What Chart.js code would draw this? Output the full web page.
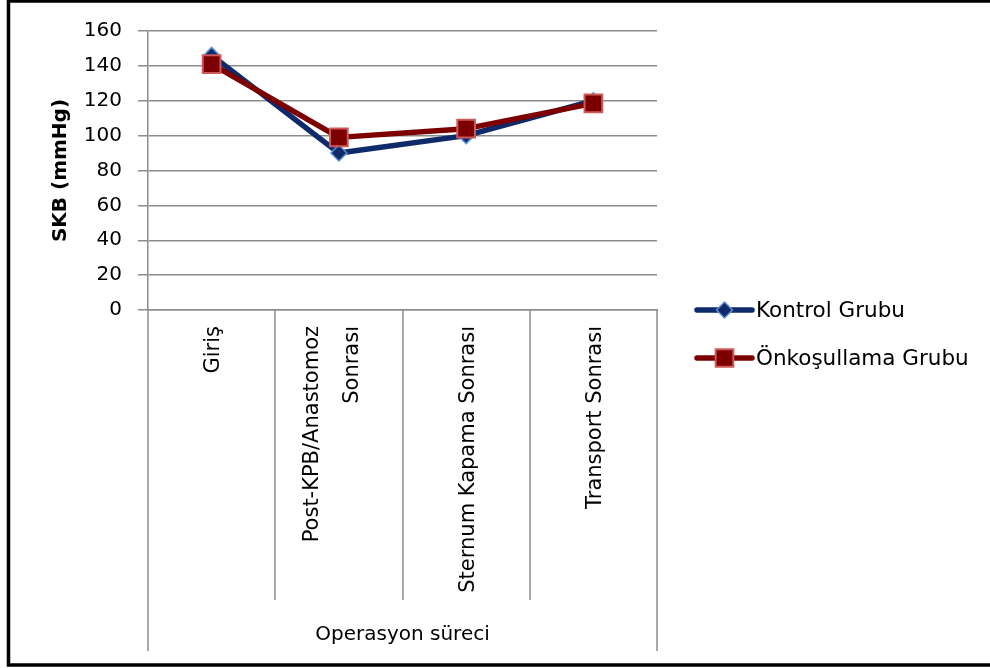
<!DOCTYPE html>
<html>
<head>
<meta charset="utf-8">
<script src="https://cdn.jsdelivr.net/npm/chart.js@4/dist/chart.umd.min.js"></script>
<style>
  html, body { margin: 0; padding: 0; background: #fff; }
  #wrap { position: relative; width: 990px; height: 668px; }
</style>
</head>
<body>
<div id="wrap"><canvas id="chart" width="990" height="668"></canvas></div>
<script>
// Systolic blood pressure (SKB) per surgical phase, two patient groups
const categories = ['Giriş', ['Post-KPB/Anastomoz', 'Sonrası'], 'Sternum Kapama Sonrası', 'Transport Sonrası'];
const kontrolGrubu = [146, 90, 100, 120];
const onkosullamaGrubu = [141, 99, 104, 118.5];
const yTickValues = [0, 20, 40, 60, 80, 100, 120, 140, 160];
const seriesNames = ['Kontrol Grubu', 'Önkoşullama Grubu'];
const yTitle = 'SKB (mmHg)';
const xTitle = 'Operasyon süreci';

const FONT = '"DejaVu Sans"';
const GRID = '#8c8c8c';

// white page + heavy black frame
const framePlugin = {
  id: 'frame',
  beforeDraw(chart) {
    const ctx = chart.ctx;
    ctx.save();
    ctx.fillStyle = '#fff';
    ctx.fillRect(0, 0, chart.width, chart.height);
    ctx.restore();
  },
  afterDraw(chart) {
    const ctx = chart.ctx;
    ctx.save();
    ctx.strokeStyle = '#000';
    ctx.lineWidth = 3.5;
    ctx.strokeRect(8.5, 1, chart.width + 20, chart.height - 4);
    ctx.restore();
  }
};

// category band under the plot: separators plus vertical category names
const categoryBandPlugin = {
  id: 'categoryBand',
  afterDraw(chart) {
    const xs = chart.scales.x;
    const n = xs.ticks.length;
    const ctx = chart.ctx;
    ctx.save();
    ctx.strokeStyle = GRID;
    ctx.lineWidth = 1.5;
    for (let i = 0; i <= n; i++) {
      const px = Math.round(xs.getPixelForValue(i - 0.5));
      const outer = (i === 0 || i === n);
      const yEnd = outer ? xs.bottom - 17 : xs.bottom - 68;
      ctx.beginPath();
      ctx.moveTo(px, xs.top);
      ctx.lineTo(px, yEnd);
      ctx.stroke();
    }
    ctx.restore();

    const spacing = 40;
    ctx.save();
    ctx.fillStyle = '#000';
    ctx.font = '21px ' + FONT;
    ctx.textAlign = 'right';
    ctx.textBaseline = 'middle';
    categories.forEach((label, i) => {
      const lines = Array.isArray(label) ? label : [label];
      const px = xs.getPixelForValue(i);
      lines.forEach((line, j) => {
        const x = px + 2 - (lines.length - 1) * 28 + j * spacing;
        ctx.save();
        ctx.translate(x, xs.top + 16);
        ctx.rotate(-Math.PI / 2);
        ctx.fillText(line, 0, 0);
        ctx.restore();
      });
    });
    ctx.restore();
  }
};

function drawMarker(ctx, ds, x, y) {
  ctx.save();
  ctx.fillStyle = ds.pointBackgroundColor;
  ctx.strokeStyle = ds.pointBorderColor;
  ctx.lineWidth = ds.pointBorderWidth;
  ctx.beginPath();
  const r = ds.pointRadius;
  if (ds.pointStyle === 'rectRot') {
    ctx.moveTo(x, y - r);
    ctx.lineTo(x + r, y);
    ctx.lineTo(x, y + r);
    ctx.lineTo(x - r, y);
    ctx.closePath();
  } else {
    const h = r * Math.SQRT1_2;
    ctx.rect(x - h, y - h, 2 * h, 2 * h);
  }
  ctx.fill();
  ctx.stroke();
  ctx.restore();
}

// legend to the right of the plot: line sample with marker, then the name
const sideLegendPlugin = {
  id: 'sideLegend',
  afterDraw(chart) {
    const ctx = chart.ctx;
    const area = chart.chartArea;
    const x0 = area.right + 40;
    const x1 = area.right + 95;
    const yMid = chart.height / 2;
    chart.data.datasets.forEach((ds, i) => {
      const y = yMid - 24 + i * 48;
      ctx.save();
      ctx.strokeStyle = ds.borderColor;
      ctx.lineWidth = ds.borderWidth;
      ctx.lineCap = 'round';
      ctx.beginPath();
      ctx.moveTo(x0, y);
      ctx.lineTo(x1, y);
      ctx.stroke();
      ctx.restore();
      drawMarker(ctx, ds, (x0 + x1) / 2, y);
      ctx.save();
      ctx.fillStyle = '#000';
      ctx.font = '21.5px ' + FONT;
      ctx.textBaseline = 'middle';
      ctx.textAlign = 'left';
      ctx.fillText(ds.label, x1 + 4, y + 1);
      ctx.restore();
    });
  }
};

const chart = new Chart(document.getElementById('chart'), {
  type: 'line',
  data: {
    labels: categories,
    datasets: [
      {
        label: seriesNames[0],
        data: kontrolGrubu,
        order: 1,
        borderColor: '#0f2a6b',
        borderWidth: 5.5,
        borderJoinStyle: 'round',
        pointStyle: 'rectRot',
        pointRadius: 8,
        pointBackgroundColor: '#0f2a6b',
        pointBorderColor: '#5b8fd0',
        pointBorderWidth: 1.5,
        tension: 0,
        fill: false
      },
      {
        label: seriesNames[1],
        data: onkosullamaGrubu,
        order: 0,
        borderColor: '#7c0000',
        borderWidth: 5.5,
        borderJoinStyle: 'round',
        pointStyle: 'rect',
        pointRadius: 12.5,
        pointBackgroundColor: '#7c0000',
        pointBorderColor: '#cd5a5a',
        pointBorderWidth: 2,
        tension: 0,
        fill: false
      }
    ]
  },
  options: {
    responsive: false,
    animation: false,
    devicePixelRatio: 1,
    layout: { padding: { top: 31, right: 333, bottom: 0, left: 0 } },
    plugins: {
      legend: { display: false },
      tooltip: { enabled: false }
    },
    scales: {
      x: {
        offset: true,
        grid: { display: false, drawTicks: false },
        border: { display: true, color: GRID, width: 1.5 },
        ticks: { display: false, autoSkip: false },
        title: {
          display: true,
          text: xTitle,
          color: '#000',
          font: { family: FONT, size: 20 },
          padding: { top: 0, bottom: 21 }
        },
        afterFit(scale) { scale.height = 358; }
      },
      y: {
        min: 0,
        max: 160,
        afterBuildTicks(scale) { scale.ticks = yTickValues.map(v => ({ value: v })); },
        grid: { color: GRID, lineWidth: 1.5, drawTicks: true, tickLength: 10 },
        border: { display: true, color: GRID, width: 1.5 },
        ticks: {
          padding: 16,
          color: '#000',
          font: { family: FONT, size: 20 }
        },
        title: {
          display: true,
          text: yTitle,
          color: '#000',
          font: { family: FONT, size: 20, weight: 'bold' },
          padding: { top: 49, bottom: 0 }
        },
        afterFit(scale) { scale.width = 148; }
      }
    }
  },
  plugins: [framePlugin, categoryBandPlugin, sideLegendPlugin]
});
</script>
</body>
</html>
